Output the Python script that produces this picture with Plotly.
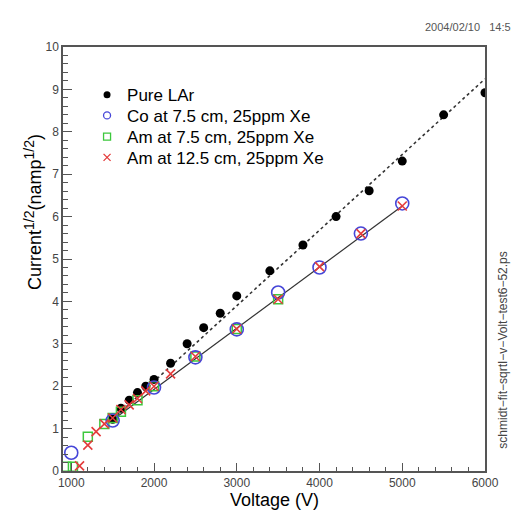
import plotly.graph_objects as go

# Pure liquid argon
lar_v = [1500, 1600, 1700, 1800, 1900, 2000, 2200, 2400, 2600, 2800, 3000,
         3400, 3800, 4200, 4600, 5000, 5500, 6000]
lar_i = [1.22, 1.48, 1.67, 1.85, 2.00, 2.16, 2.54, 3.00, 3.38, 3.72, 4.13,
         4.72, 5.33, 6.00, 6.61, 7.31, 8.40, 8.92]

# Co source at 7.5 cm, 25 ppm Xe
co_v = [1000, 1500, 2000, 2500, 3000, 3500, 4000, 4500, 5000]
co_i = [0.43, 1.19, 1.97, 2.68, 3.34, 4.21, 4.80, 5.60, 6.31]

# Am source at 7.5 cm, 25 ppm Xe
am75_v = [940, 1020, 1200, 1400, 1500, 1600, 1800, 2000, 2500, 3000, 3500]
am75_i = [0.10, 0.10, 0.81, 1.11, 1.25, 1.40, 1.67, 2.00, 2.70, 3.35, 4.05]

# Am source at 12.5 cm, 25 ppm Xe
am125_v = [1100, 1200, 1300, 1400, 1500, 1600, 1700, 1800, 1900, 2000, 2200,
           2500, 3000, 3500, 4000, 4500, 5000]
am125_i = [0.12, 0.61, 0.93, 1.11, 1.25, 1.45, 1.56, 1.71, 1.89, 2.00, 2.29,
           2.70, 3.35, 4.05, 4.82, 5.60, 6.25]

# straight-line fits: (intercept, slope) and fitted voltage range
lar_fit = (-1.456, 0.001784)
lar_fit_range = [1500, 6000]
xe_fit = (-0.964, 0.001443)
xe_fit_range = [1500, 5000]

x_ticks = [1000, 2000, 3000, 4000, 5000, 6000]
y_ticks = [0, 1, 2, 3, 4, 5, 6, 7, 8, 9, 10]

BLUE = "#4646d8"
GREEN = "#3cc83c"
RED = "#e43c3c"
FONT = "Liberation Sans, Arial, sans-serif"

fig = go.Figure()

fig.add_trace(go.Scatter(
    x=lar_fit_range, y=[lar_fit[0] + lar_fit[1] * v for v in lar_fit_range],
    mode="lines", line=dict(color="#333333", width=1.6, dash="dot"),
    showlegend=False, hoverinfo="skip"))
fig.add_trace(go.Scatter(
    x=xe_fit_range, y=[xe_fit[0] + xe_fit[1] * v for v in xe_fit_range],
    mode="lines", line=dict(color="#333333", width=1.2),
    showlegend=False, hoverinfo="skip"))

series = [
    ("Pure LAr", lar_v, lar_i, dict(symbol="circle", color="black", size=9, line=dict(width=0)),
     dict(symbol="circle", color="black", size=7, line=dict(width=0))),
    ("Am at 7.5 cm, 25ppm Xe", am75_v, am75_i,
     dict(symbol="square-open", color=GREEN, size=9, line=dict(width=1.5, color=GREEN)),
     dict(symbol="square-open", color=GREEN, size=7, line=dict(width=1.3, color=GREEN))),
    ("Co at 7.5 cm, 25ppm Xe", co_v, co_i,
     dict(symbol="circle-open", color=BLUE, size=13, line=dict(width=1.6, color=BLUE)),
     dict(symbol="circle-open", color=BLUE, size=7, line=dict(width=1.3, color=BLUE))),
    ("Am at 12.5 cm, 25ppm Xe", am125_v, am125_i,
     dict(symbol="x-thin-open", color=RED, size=9, line=dict(width=1.6, color=RED)),
     dict(symbol="x-thin-open", color=RED, size=7, line=dict(width=1.3, color=RED))),
]
# each legend row is its own legend box so the rows sit close together
legend_slot = {"Pure LAr": ("legend", 0.929),
               "Co at 7.5 cm, 25ppm Xe": ("legend2", 0.880),
               "Am at 7.5 cm, 25ppm Xe": ("legend3", 0.830),
               "Am at 12.5 cm, 25ppm Xe": ("legend4", 0.781)}

for name, xs, ys, mk, lmk in series:
    fig.add_trace(go.Scatter(x=xs, y=ys, mode="markers", marker=mk,
                             name=name, showlegend=False))
for name, xs, ys, mk, lmk in series:
    fig.add_trace(go.Scatter(x=[None], y=[None], mode="markers", marker=lmk,
                             name=name, showlegend=True,
                             legend=legend_slot[name][0]))

axis_common = dict(
    showgrid=False, zeroline=False, showline=True, mirror=True,
    linecolor="#555555", linewidth=1.5,
    ticks="inside", tickcolor="#555555", tickwidth=1,
    tickfont=dict(family=FONT, size=12, color="#444444"),
)

fig.update_xaxes(
    range=[900, 6000], tickvals=x_ticks, ticklen=8,
    minor=dict(dtick=200, tick0=0, ticklen=4, ticks="inside", tickcolor="#555555"),
    **axis_common)
fig.update_yaxes(
    range=[0, 10], tickvals=y_ticks, ticklen=9,
    minor=dict(dtick=0.2, tick0=0, ticklen=5, ticks="inside", tickcolor="#555555"),
    **axis_common)

legend_style = dict(x=0.057, xanchor="left", yanchor="top",
                    bgcolor="rgba(0,0,0,0)", font=dict(size=17, color="black"),
                    itemwidth=30)
layout_legends = {key: dict(y=ypos, **legend_style) for key, ypos in legend_slot.values()}

half = "<sup><span style='font-size:14px'>1/2</span></sup>"

fig.update_layout(
    width=511, height=513,
    margin=dict(l=63, r=24, t=47, b=42),
    paper_bgcolor="white", plot_bgcolor="white",
    font=dict(family=FONT, color="black"),
    annotations=[
        dict(text="Voltage (V)", x=0.5, y=-0.069, xref="paper", yref="paper",
             xanchor="center", yanchor="middle", showarrow=False,
             font=dict(size=18, family=FONT, color="black")),
        dict(text=f"Current{half}(namp{half})", x=-0.07, y=0.612,
             xref="paper", yref="paper", xanchor="center", yanchor="middle",
             textangle=-90, showarrow=False,
             font=dict(size=18, family=FONT, color="black")),
        dict(text="2004/02/10   14:52", x=0.854, y=1.047, xref="paper", yref="paper",
             xanchor="left", yanchor="middle", showarrow=False,
             font=dict(size=11, family=FONT, color="#555555")),
        dict(text="schmidt\u2212fit\u2212sqrtI\u2212v\u2212Volt\u2212test6\u221252.ps",
             x=1.0425, y=0.286, xref="paper", yref="paper",
             xanchor="center", yanchor="middle", textangle=-90, showarrow=False,
             font=dict(size=12, family=FONT, color="#444444")),
    ],
    **layout_legends,
)

fig.write_html("out.html")
